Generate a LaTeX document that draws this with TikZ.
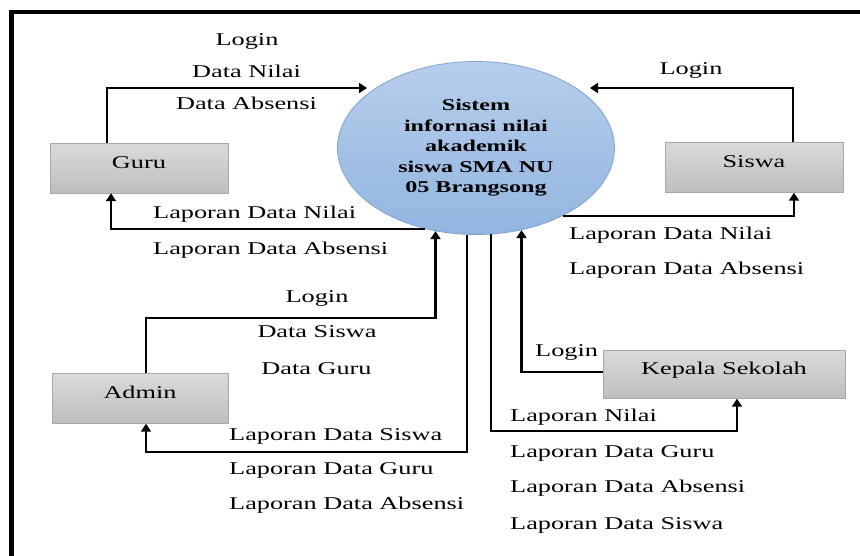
\documentclass[tikz,border=0pt]{standalone}
\usepackage{fontspec}
\setmainfont[FakeStretch=1.46]{Liberation Serif}
\usetikzlibrary{arrows.meta,shapes.geometric}
\definecolor{boxtop}{HTML}{DADADA}
\definecolor{boxbot}{HTML}{BEBEBE}
\definecolor{boxline}{HTML}{A8A8A8}
\definecolor{systop}{HTML}{B6CEEB}
\definecolor{sysbot}{HTML}{93B5E0}
\definecolor{sysline}{HTML}{7EA3D3}

\begin{document}
\begin{tikzpicture}[x=1pt,y=-1pt,
  entity/.style={rectangle, draw=boxline, top color=boxtop, bottom color=boxbot, minimum height=50pt, inner sep=0pt, text height=12pt, text depth=12pt, font=\fontsize{18pt}{20pt}\selectfont},
  proc/.style={ellipse, draw=sysline, line width=0.8pt, top color=systop, bottom color=sysbot, minimum width=277pt, minimum height=173pt, inner sep=0pt, align=center, font=\fontsize{16.5pt}{20.5pt}\selectfont\bfseries},
  flow/.style={line width=2.5pt, -{Triangle[length=8pt,width=10pt]}},
  lbl/.style={inner sep=0pt, text height=12pt, text depth=4pt, font=\fontsize{18pt}{20pt}\selectfont}]
\useasboundingbox (0,0) rectangle (860,555);
\draw[line width=4.5pt] (11.5,560) -- (11.5,12) -- (865,12);

\node[proc] (sys) at (476,148) {Sistem\\ infornasi nilai\\ akademik\\ siswa SMA NU\\ 05 Brangsong};
\node[entity, minimum width=178pt] (guru) at (139,168) {Guru};
\node[entity, minimum width=178pt] (siswa) at (754,167.5) {Siswa};
\node[entity, minimum width=176pt] (admin) at (140,398.5) {Admin};
\node[entity, minimum width=242pt, minimum height=48pt] (kepala) at (724,374.5) {Kepala Sekolah};

\coordinate (gurutip) at (367,88);
\coordinate (siswatip) at (590,88);

% guru
\draw[flow] ([xshift=-32pt]guru.north) |- (gurutip);
\draw[flow] (sys.238.8) -| ([xshift=-28pt]guru.south);
\node[lbl] (g1) at (247,41.5) {Login};
\node[lbl] (g2) at (246.5,73) {Data Nilai};
\node[lbl] (g3) at (246.5,105.5) {Data Absensi};
\node[lbl, anchor=west] (g4) at (153,214) {Laporan Data Nilai};
\node[lbl, anchor=west] (g5) at (153,250.5) {Laporan Data Absensi};

% siswa
\draw[flow] ([xshift=39pt]siswa.north) |- (siswatip);
\draw[flow] (sys.-38.3) -| ([xshift=40pt]siswa.south);
\node[lbl] (s1) at (691,70) {Login};
\node[lbl, anchor=west] (s2) at (569,235) {Laporan Data Nilai};
\node[lbl, anchor=west] (s3) at (569,270) {Laporan Data Absensi};

% admin
\draw[flow] ([xshift=6pt]admin.north) |- (sys.244.8 |- 0,318) -- (sys.244.8);
\draw[flow] (sys.264) -- (sys.264 |- 0,452) -| ([xshift=6pt]admin.south);
\node[lbl] (a1) at (317,298.5) {Login};
\node[lbl] (a2) at (317,333.5) {Data Siswa};
\node[lbl] (a3) at (316.5,370) {Data Guru};
\node[lbl, anchor=west] (a4) at (229,436) {Laporan Data Siswa};
\node[lbl, anchor=west] (a5) at (229,470) {Laporan Data Guru};
\node[lbl, anchor=west] (a6) at (229,505) {Laporan Data Absensi};

% kepala sekolah
\draw[flow] ([yshift=2.5pt]kepala.west) -| (sys.-61.8);
\draw[flow] (sys.-80.8) -- (sys.-80.8 |- 0,431) -| ([xshift=13pt]kepala.south);
\node[lbl, anchor=west] (k1) at (535,352.5) {Login};
\node[lbl, anchor=west] (k2) at (510,417.5) {Laporan Nilai};
\node[lbl, anchor=west] (k3) at (510,453) {Laporan Data Guru};
\node[lbl, anchor=west] (k4) at (510,488.5) {Laporan Data Absensi};
\node[lbl, anchor=west] (k5) at (510,525.5) {Laporan Data Siswa};
\end{tikzpicture}
\end{document}
